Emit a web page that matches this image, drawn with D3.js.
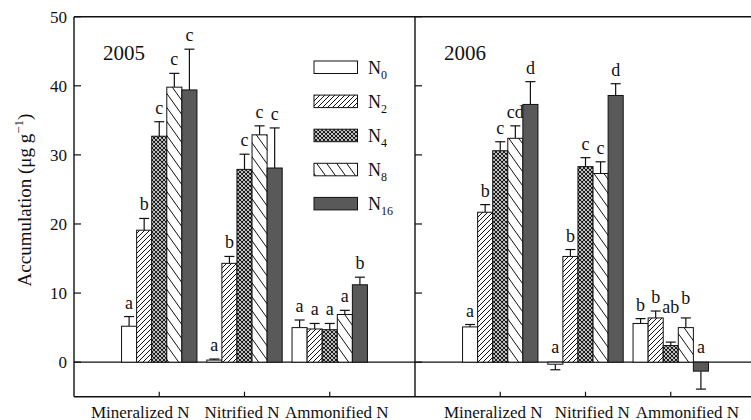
<!DOCTYPE html>
<html>
<head>
<meta charset="utf-8">
<script src="https://cdn.jsdelivr.net/npm/d3@7"></script>
<style>
  html, body { margin: 0; padding: 0; background: #fff; }
  svg { display: block; }
  text { font-family: "Liberation Serif", "Times New Roman", serif; fill: #111; }
</style>
</head>
<body>
<script>
// ---------------- data ----------------
const categories = ["Mineralized N", "Nitrified N", "Ammonified N"];
const seriesNames = ["N0", "N2", "N4", "N8", "N16"];
const seriesSubs = ["0", "2", "4", "8", "16"];
const years = ["2005", "2006"];
const yTicks = [0, 10, 20, 30, 40, 50];

// values[category][series]
const values2005 = [
  [5.2, 19.1, 32.7, 39.8, 39.4],
  [0.3, 14.3, 27.9, 32.9, 28.1],
  [5.0, 4.8, 4.7, 6.9, 11.2]
];
const errors2005 = [
  [1.4, 1.7, 2.1, 2.0, 5.9],
  [0.15, 1.0, 2.2, 1.3, 5.8],
  [1.1, 0.8, 0.9, 0.6, 1.1]
];
const letters2005 = [
  ["a", "b", "c", "c", "c"],
  ["a", "b", "c", "c", "c"],
  ["a", "a", "a", "a", "b"]
];
const values2006 = [
  [5.1, 21.7, 30.6, 32.4, 37.3],
  [-0.3, 15.3, 28.3, 27.3, 38.6],
  [5.6, 6.4, 2.4, 5.0, -1.3]
];
const errors2006 = [
  [0.35, 1.1, 1.3, 1.8, 3.3],
  [0.8, 1.0, 1.3, 1.7, 1.7],
  [0.7, 1.0, 0.5, 1.4, 2.6]
];
const letters2006 = [
  ["a", "b", "c", "cd", "d"],
  ["a", "b", "c", "c", "d"],
  ["b", "b", "ab", "b", "a"]
];

// ---------------- layout ----------------
const W = 751, H = 420;
const plotTop = 16.7, plotBottom = 396.7;
const panelW = 341;
const panelX0 = [74, 415];
const groupHalf = 37.7;
const darkFill = "#595959";
// horizontal shifts of category captions per panel (layout)
const captionShift = [[-19, -2.5, 7], [-7, 6.7, 16.7]];
// manual lifts of crowded letter labels, keyed "panel-category-series" (layout)
const letterLift = { "1-2-2": 21, "1-2-3": 6 };

const svg = d3.select("body").append("svg")
  .attr("width", W).attr("height", H)
  .attr("viewBox", `0 0 ${W} ${H}`);
svg.append("rect").attr("width", W).attr("height", H).attr("fill", "#fff");

// patterns
const defs = svg.append("defs");
function pat(id, w, h, d, sw) {
  const p = defs.append("pattern").attr("id", id)
    .attr("patternUnits", "userSpaceOnUse")
    .attr("width", w).attr("height", h);
  p.append("rect").attr("width", w).attr("height", h).attr("fill", "#fff");
  p.append("path").attr("d", d).attr("stroke", "#111").attr("stroke-width", sw).attr("fill", "none");
}
// N2: "/" lines
pat("pN2", 5, 5, "M-1,6 L6,-1 M-1,1 L1,-1 M4,6 L6,4", 1.0);
// N4: cross hatch
pat("pN4", 4, 4, "M-1,5 L5,-1 M-1,1 L1,-1 M3,5 L5,3 M-1,-1 L5,5 M-1,3 L1,5 M3,-1 L5,1", 1.1);
// N8: "\" lines, sparse, steep
pat("pN8", 10, 14, "M-1,-1.4 L11,15.4 M-1,12.6 L1,15.4 M9,-1.4 L11,1.4", 1.0);

const fills = ["#fff", "url(#pN2)", "url(#pN4)", "url(#pN8)", darkFill];

const y = d3.scaleLinear().domain([-5, 50]).range([plotBottom, plotTop]);

const panels = [
  { year: years[0], vals: values2005, errs: errors2005, lets: letters2005 },
  { year: years[1], vals: values2006, errs: errors2006, lets: letters2006 }
];

panels.forEach((P, pi) => {
  const x0 = panelX0[pi];
  const x = d3.scalePoint().domain(categories).range([x0, x0 + panelW]).padding(1);
  const xs = d3.scaleBand().domain(seriesNames).range([-groupHalf, groupHalf]).padding(0);
  const g = svg.append("g");

  // zero line
  g.append("line")
    .attr("x1", x0).attr("x2", Math.min(x0 + panelW, W))
    .attr("y1", y(0)).attr("y2", y(0))
    .attr("stroke", "#111").attr("stroke-width", 1.2);

  categories.forEach((c, ci) => {
    seriesNames.forEach((s, si) => {
      const v = P.vals[ci][si], e = P.errs[ci][si], L = P.lets[ci][si];
      const bx = x(c) + xs(s);
      const bw = xs.bandwidth();
      const cx = bx + bw / 2;
      const yTopBar = y(Math.max(0, v)), yBotBar = y(Math.min(0, v));
      const yErr = v >= 0 ? y(v + e) : y(v - e);
      const yEnd = v >= 0 ? yTopBar : yBotBar;
      // error bar
      g.append("line").attr("x1", cx).attr("x2", cx)
        .attr("y1", yEnd).attr("y2", yErr)
        .attr("stroke", "#111").attr("stroke-width", 1.2);
      g.append("line").attr("x1", cx - 5).attr("x2", cx + 5)
        .attr("y1", yErr).attr("y2", yErr)
        .attr("stroke", "#111").attr("stroke-width", 1.2);
      // bar
      g.append("rect")
        .attr("x", bx).attr("y", yTopBar)
        .attr("width", bw).attr("height", Math.max(0.8, yBotBar - yTopBar))
        .attr("fill", fills[si]).attr("stroke", "#111").attr("stroke-width", 1);
      // letter
      const lift = letterLift[`${pi}-${ci}-${si}`] || 0;
      const ly = (v >= 0 ? yErr - 8 : y(0) - 9) - lift;
      g.append("text").attr("x", cx).attr("y", ly)
        .attr("text-anchor", "middle").attr("font-size", 18)
        .text(L);
    });
    // bottom tick
    g.append("line").attr("x1", x(c)).attr("x2", x(c))
      .attr("y1", plotBottom).attr("y2", plotBottom - 5)
      .attr("stroke", "#111").attr("stroke-width", 1.2);
    // caption
    g.append("text").attr("x", x(c) + captionShift[pi][ci]).attr("y", 417.5)
      .attr("text-anchor", "middle").attr("font-size", 17)
      .text(c);
  });

  // y ticks (inward)
  yTicks.forEach(t => {
    g.append("line").attr("x1", x0).attr("x2", x0 + 7)
      .attr("y1", y(t)).attr("y2", y(t))
      .attr("stroke", "#111").attr("stroke-width", 1.2);
  });

  // year label
  g.append("text").attr("x", x0 + 29).attr("y", 60)
    .attr("font-size", 21).text(P.year);
});

// tick labels (left axis only)
yTicks.forEach(t => {
  svg.append("text").attr("x", 67).attr("y", y(t) + 6)
    .attr("text-anchor", "end").attr("font-size", 17).text(t);
});

// frame
const frame = svg.append("g").attr("stroke", "#111").attr("stroke-width", 1.4);
frame.append("line").attr("x1", 74).attr("x2", W).attr("y1", plotTop).attr("y2", plotTop);
frame.append("line").attr("x1", 74).attr("x2", W).attr("y1", plotBottom).attr("y2", plotBottom);
frame.append("line").attr("x1", 74).attr("x2", 74).attr("y1", plotTop).attr("y2", plotBottom);
frame.append("line").attr("x1", 415).attr("x2", 415).attr("y1", plotTop).attr("y2", plotBottom);

// y axis title
const yt = svg.append("text")
  .attr("transform", `translate(31,200) rotate(-90)`)
  .attr("text-anchor", "middle").attr("font-size", 19);
yt.append("tspan").text("Accumulation (μg g");
yt.append("tspan").attr("font-size", 13).attr("dy", -8).text("−1");
yt.append("tspan").attr("dy", 8).text(")");

// legend
const lg = svg.append("g");
seriesNames.forEach((s, i) => {
  const ly = 61 + i * 34.1;
  lg.append("rect").attr("x", 314).attr("y", ly).attr("width", 43.5).attr("height", 12.5)
    .attr("fill", fills[i]).attr("stroke", "#111").attr("stroke-width", 1);
  const t = lg.append("text").attr("x", 368).attr("y", ly + 12.5).attr("font-size", 18);
  t.append("tspan").text("N");
  t.append("tspan").attr("font-size", 12).attr("dy", 5).text(seriesSubs[i]);
});
</script>
</body>
</html>
